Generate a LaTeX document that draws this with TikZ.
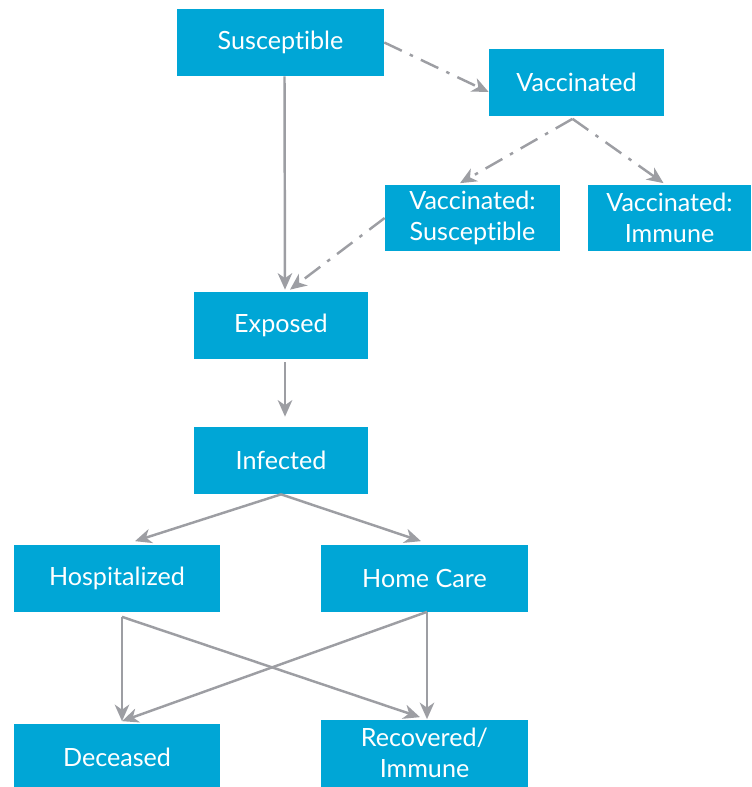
\documentclass[tikz,border=0pt]{standalone}
\usepackage{fontspec}
\setmainfont{Lato}[Ligatures=NoCommon]
\usetikzlibrary{positioning,arrows.meta}
\definecolor{boxblue}{HTML}{00A6D6}
\definecolor{linegray}{HTML}{9D9EA3}
\tikzset{
  compartment/.style={fill=boxblue, text=white, align=center, inner sep=0pt,
    minimum width=3.5cm, minimum height=1.34cm,
    font=\fontsize{14.3}{17.5}\selectfont},
  wide/.style={compartment, minimum width=4.14cm},
  flow/.style={draw=linegray, line width=1.4pt,
    -{Stealth[length=3.3mm,width=2.9mm,inset=1mm]}},
  vaccflow/.style={flow, dash pattern=on 11pt off 5pt on 2pt off 5pt}
}

\begin{document}
\begin{tikzpicture}[x=0.02cm,y=-0.02cm]
  \useasboundingbox (0,0) rectangle (751,787);
  % compartments
  \node[wide]        (sus)  at (280.5,42.5) {Susceptible};
  \node[compartment] (vac)  at (576.5,82.5) {Vaccinated};
  \node[compartment] (vsus) at (472.5,218)  {Vaccinated:\\Susceptible};
  \node[compartment, minimum width=3.26cm] (vimm) at (669.5,218) {Vaccinated:\\Immune};
  \node[compartment] (exp)  at (281,325.5)  {Exposed};
  \node[compartment] (inf)  at (281,460.5)  {Infected};
  \node[wide]        (hosp) at (117,578)    {Hospitalized};
  \node[wide]        (home) at (424.5,578)  {Home Care};
  \node[wide]        (dec)  at (117,757)    {Deceased};
  \node[wide]        (rec)  at (424.5,753)  {Recovered/\\Immune};
  % free ends
  \coordinate (hospout) at ([xshift=0.1cm,yshift=-0.1cm]hosp.south);
  \coordinate (homeout) at ([xshift=0.05cm]home.south);
  % vaccination
  \draw[vaccflow] (sus.east) -- ([yshift=-0.19cm]vac.west);
  \draw[vaccflow] ([xshift=-0.08cm,yshift=-0.05cm]vac.south) -- ([xshift=-0.25cm,yshift=0.02cm]vsus.north);
  \draw[vaccflow] ([xshift=-0.08cm,yshift=-0.05cm]vac.south) -- ([xshift=-0.12cm,yshift=0.02cm]vimm.north);
  \draw[vaccflow] (vsus.west) -- ([xshift=0.18cm,yshift=0.04cm]exp.north);
  % infection
  \draw[flow] ([xshift=0.08cm]sus.south) -- ([xshift=0.08cm,yshift=0.04cm]exp.north);
  \draw[flow] ([xshift=0.08cm,yshift=-0.06cm]exp.south) -- ([xshift=0.08cm,yshift=0.2cm]inf.north);
  \draw[flow] (inf.south) -- ([xshift=0.36cm,yshift=0.06cm]hosp.north);
  \draw[flow] (inf.south) -- ([xshift=-0.07cm,yshift=0.06cm]home.north);
  % outcomes
  \draw[flow] (hospout) -- ([xshift=0.1cm,yshift=0.04cm]dec.north);
  \draw[flow] (hospout) -- ([xshift=-0.09cm,yshift=0.04cm]rec.north);
  \draw[flow] (homeout) -- ([xshift=0.05cm]rec.north);
  \draw[flow] (homeout) -- ([xshift=0.1cm,yshift=0.04cm]dec.north);
\end{tikzpicture}
\end{document}
